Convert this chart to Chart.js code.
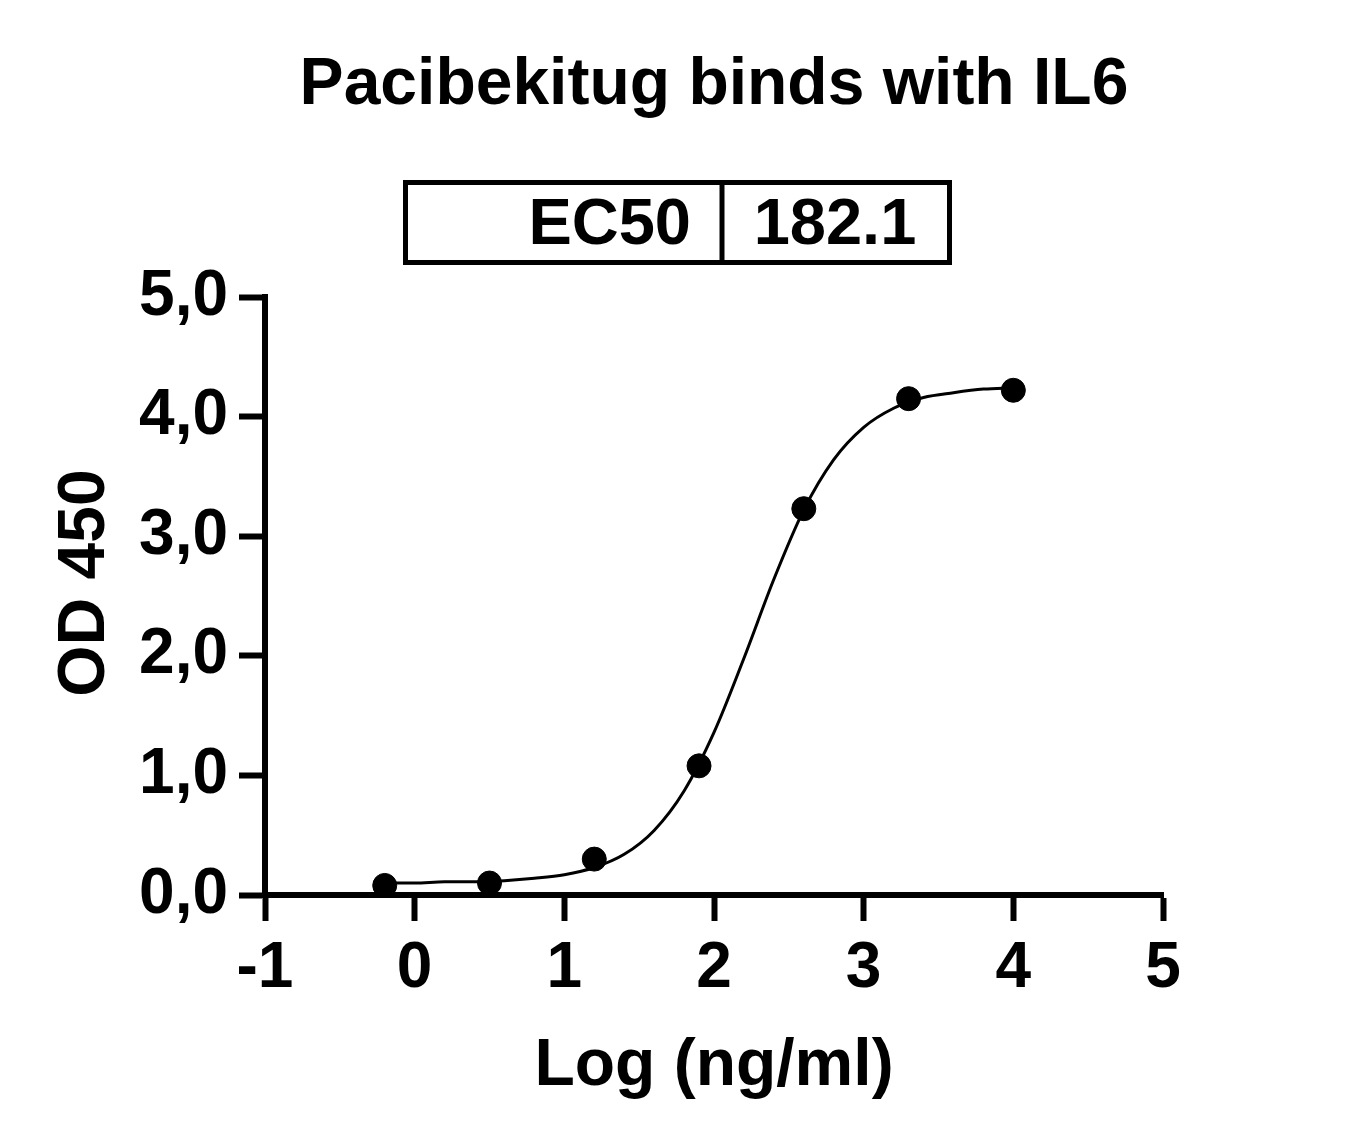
<!DOCTYPE html>
<html>
<head>
<meta charset="utf-8">
<title>Pacibekitug binds with IL6</title>
<script src="https://cdn.jsdelivr.net/npm/chart.js@4.4.1/dist/chart.umd.min.js"></script>
<style>
  html, body { margin: 0; padding: 0; background: #fff; }
  canvas { display: block; }
</style>
</head>
<body>
<canvas id="odChart" width="1362" height="1142"></canvas>
<script>
const chartTitle = 'Pacibekitug binds with IL6';
const xTitle = 'Log (ng/ml)';
const yTitle = 'OD 450';
const ec50Label = 'EC50';
const ec50Value = '182.1';

// measured points, log(ng/ml) vs OD 450
const logConc = [-0.2, 0.5, 1.2, 1.9, 2.6, 3.3, 4.0];
const odValues = [0.08, 0.10, 0.30, 1.08, 3.23, 4.15, 4.22];

// fitted curve
const curveX = [-0.2, 0.0, 0.2, 0.4, 0.6, 0.8, 1.0, 1.2, 1.4, 1.6, 1.8, 2.0, 2.2, 2.4, 2.6, 2.8, 3.0, 3.2, 3.4, 3.6, 3.8, 4.0];
const curveY = [0.10, 0.10, 0.11, 0.11, 0.12, 0.14, 0.17, 0.23, 0.34, 0.54, 0.87, 1.36, 1.98, 2.64, 3.22, 3.64, 3.91, 4.07, 4.16, 4.20, 4.23, 4.24];

const FONT = '"Liberation Sans", Arial, Helvetica, sans-serif';

const pointData = logConc.map((x, i) => ({ x: x, y: odValues[i] }));
const curveData = curveX.map((x, i) => ({ x: x, y: curveY[i] }));

// title, y title and EC50 box drawn on top of the canvas
const headerPlugin = {
    id: 'header',
    afterDraw(chart) {
        const ctx = chart.ctx;
        ctx.save();
        ctx.fillStyle = '#000';
        ctx.textBaseline = 'alphabetic';
        ctx.textAlign = 'center';
        ctx.font = 'bold 66px ' + FONT;
        ctx.fillText(chartTitle, 714, 104);

        ctx.strokeStyle = '#000';
        ctx.lineWidth = 5;
        ctx.strokeRect(405.5, 182.5, 544, 80);
        ctx.beginPath();
        ctx.moveTo(722, 182);
        ctx.lineTo(722, 263);
        ctx.stroke();

        ctx.font = 'bold 65px ' + FONT;
        ctx.textAlign = 'right';
        ctx.fillText(ec50Label, 691, 244);
        ctx.textAlign = 'center';
        ctx.fillText(ec50Value, 835, 244);

        // y axis title, rotated
        ctx.translate(104, 583);
        ctx.rotate(-Math.PI / 2);
        ctx.font = 'bold 66px ' + FONT;
        ctx.textAlign = 'center';
        ctx.fillText(yTitle, 0, 0);
        ctx.restore();
    }
};

const ctx = document.getElementById('odChart').getContext('2d');
const odChart = new Chart(ctx, {
    type: 'scatter',
    data: {
        datasets: [
            {
                label: 'points',
                data: pointData,
                backgroundColor: '#000',
                borderColor: '#000',
                pointRadius: 12,
                pointHoverRadius: 12,
                order: 1
            },
            {
                label: 'fit',
                data: curveData,
                showLine: true,
                borderColor: '#000',
                borderWidth: 3,
                pointRadius: 0,
                cubicInterpolationMode: 'monotone',
                order: 2
            }
        ]
    },
    options: {
        responsive: false,
        animation: false,
        devicePixelRatio: 1,
        layout: {
            padding: { top: 297, right: 199, left: 0, bottom: 0 }
        },
        plugins: {
            legend: { display: false },
            tooltip: { enabled: false }
        },
        scales: {
            x: {
                type: 'linear',
                min: -1,
                max: 5,
                afterFit: function(scale) { scale.height = 247; },
                border: { display: true, color: '#000', width: 6 },
                grid: { drawOnChartArea: false, drawTicks: true, tickLength: 26, tickWidth: 6, tickColor: '#000' },
                ticks: {
                    stepSize: 1,
                    color: '#000',
                    padding: 10,
                    font: { family: FONT, size: 64, weight: 'bold' },
                    callback: function(v) { return String(v); }
                },
                title: {
                    display: true,
                    text: xTitle,
                    color: '#000',
                    padding: { top: 0, bottom: 36 },
                    font: { family: FONT, size: 66, weight: 'bold' }
                }
            },
            y: {
                type: 'linear',
                min: 0,
                max: 5,
                afterFit: function(scale) { scale.width = 265; },
                border: { display: true, color: '#000', width: 6 },
                grid: { drawOnChartArea: false, drawTicks: true, tickLength: 26, tickWidth: 6, tickColor: '#000' },
                ticks: {
                    stepSize: 1,
                    color: '#000',
                    padding: 11,
                    font: { family: FONT, size: 64, weight: 'bold' },
                    callback: function(v) { return v.toFixed(1).replace('.', ','); }
                },
                title: { display: false }
            }
        }
    },
    plugins: [headerPlugin]
});
</script>
</body>
</html>
